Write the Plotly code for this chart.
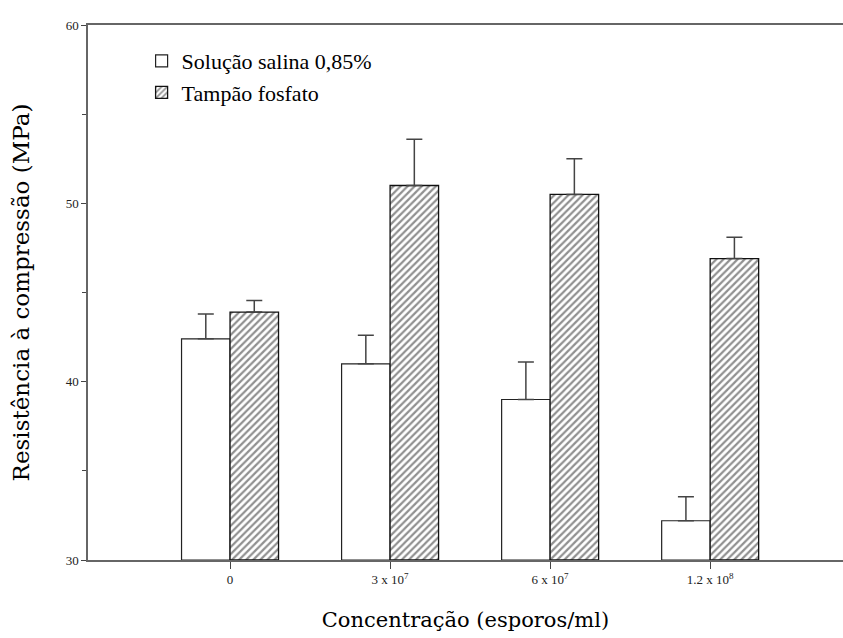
import plotly.graph_objects as go

categories = ["0", "3 x 10<sup>7</sup>", "6 x 10<sup>7</sup>", "1.2 x 10<sup>8</sup>"]
saline = [42.4, 41.0, 39.0, 32.2]
saline_err = [1.4, 1.6, 2.1, 1.35]
phosphate = [43.9, 51.0, 50.5, 46.9]
phosphate_err = [0.65, 2.6, 2.0, 1.2]

x = list(range(len(categories)))
FONT = "Liberation Serif"
TITLE_FONT = "DejaVu Serif"

fig = go.Figure()
fig.add_trace(go.Bar(
    x=x, y=[v - 30 for v in saline], base=30,
    name="Solução salina 0,85%",
    marker=dict(color="white", line=dict(color="#222", width=1.2)),
    error_y=dict(type="data", array=saline_err, arrayminus=[0]*4, symmetric=False,
                 color="#444", thickness=1.5, width=8),
))
fig.add_trace(go.Bar(
    x=x, y=[v - 30 for v in phosphate], base=30,
    name="Tampão fosfato",
    marker=dict(color="white", line=dict(color="#111", width=1.3),
                pattern=dict(shape="/", size=5, solidity=0.45, fgcolor="#222", bgcolor="white")),
    error_y=dict(type="data", array=phosphate_err, arrayminus=[0]*4, symmetric=False,
                 color="#444", thickness=1.5, width=8),
))

fig.update_layout(
    width=843, height=638,
    margin=dict(l=88, r=0, t=25, b=78),
    plot_bgcolor="white", paper_bgcolor="white",
    barmode="group", bargap=0.394, bargroupgap=0,
    font=dict(family=FONT, color="black"),
    showlegend=True,
    legend=dict(x=0.071, y=0.972, xanchor="left", yanchor="top",
                font=dict(family=FONT, size=22, color="black"),
                bgcolor="rgba(0,0,0,0)", tracegroupgap=0, itemwidth=30),
    xaxis=dict(
        range=[-0.8875, 3.83], tickvals=x, ticktext=categories,
        showgrid=False, zeroline=False,
        showline=True, linecolor="#666", linewidth=1.5, mirror=True,
        ticks="outside", ticklen=7, tickcolor="#444", tickwidth=1.2,
        tickfont=dict(family=FONT, size=13, color="#222"),
        title=dict(text="Concentração (esporos/ml)", font=dict(family=TITLE_FONT, size=21, color="black"), standoff=26),
    ),
    yaxis=dict(
        range=[30, 60], tickvals=[30, 40, 50, 60],
        showgrid=False, zeroline=False,
        showline=True, linecolor="#666", linewidth=1.5, mirror=False,
        ticks="outside", ticklen=5, tickcolor="#444",
        minor=dict(tickvals=[35, 45, 55], ticks="outside", ticklen=4, tickcolor="#444"),
        tickfont=dict(family=FONT, size=13, color="#222"),
        title=dict(text="Resistência à compressão (MPa)", font=dict(family=TITLE_FONT, size=23, color="black"), standoff=30),
    ),
)

fig.write_html("out.html")
